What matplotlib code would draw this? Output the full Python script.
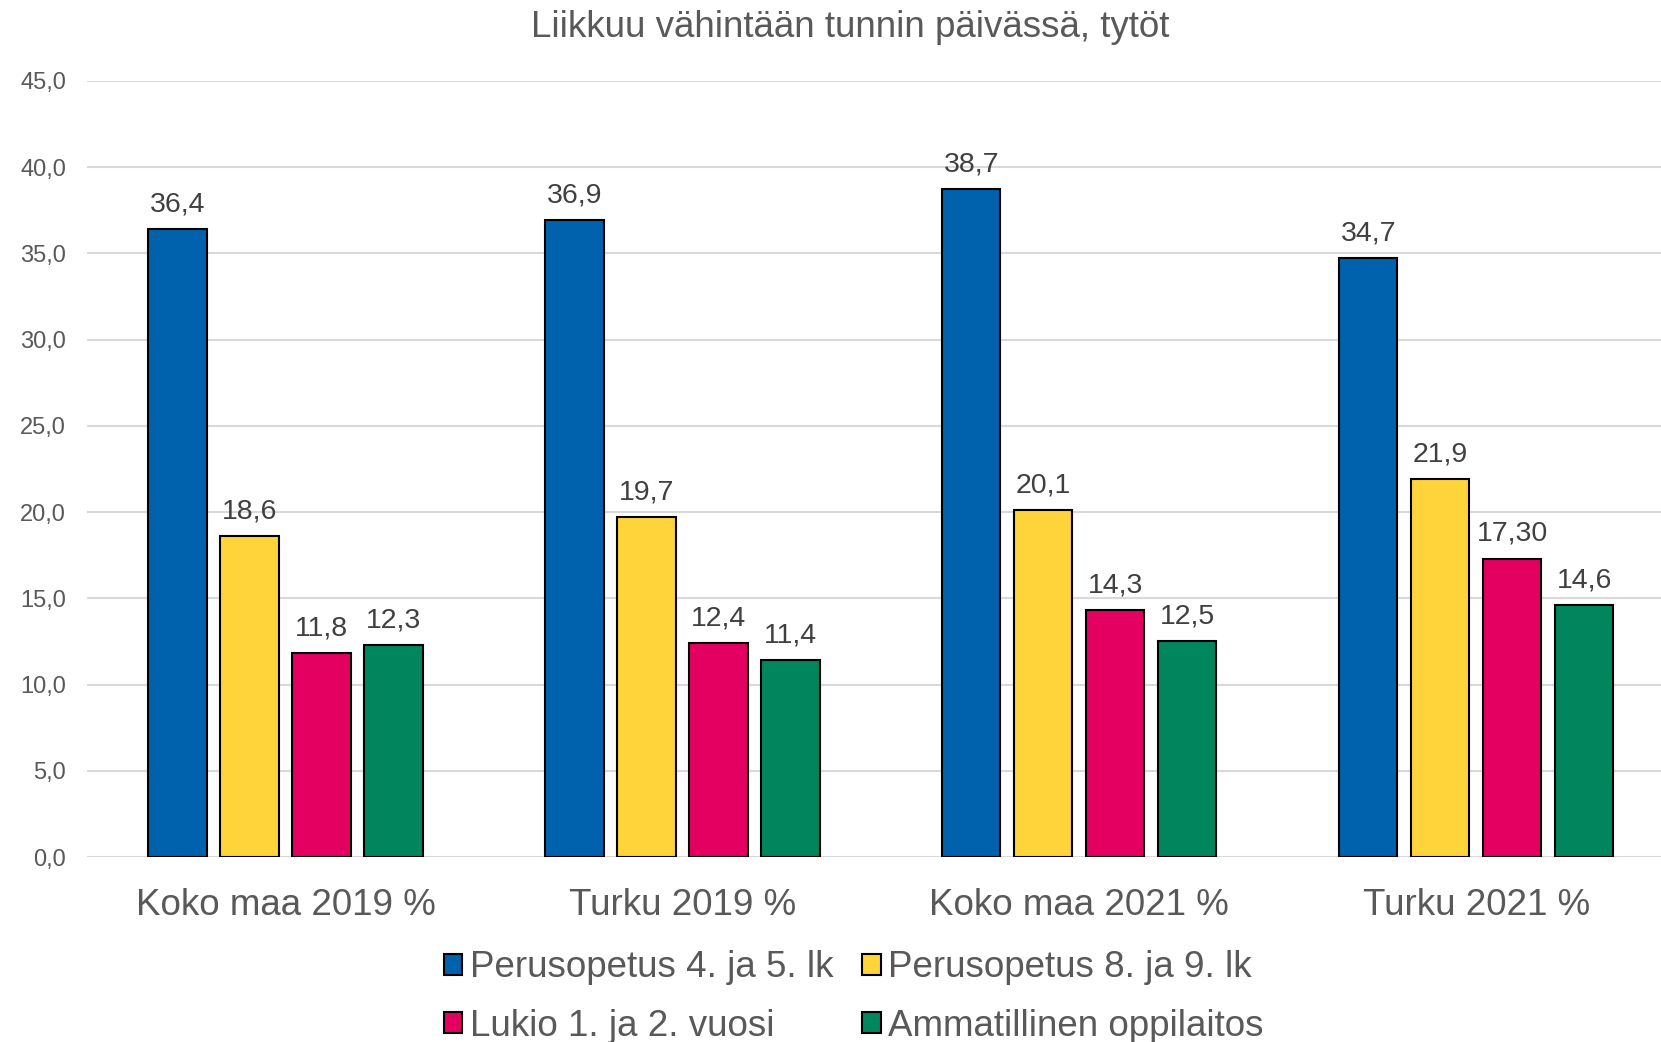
import numpy as np
from matplotlib import pyplot as plt

plt.rcParams['font.family'] = ['Liberation Sans', 'DejaVu Sans']

categories = ['Koko maa 2019 %', 'Turku 2019 %', 'Koko maa 2021 %', 'Turku 2021 %']
series_names = ['Perusopetus 4. ja 5. lk', 'Perusopetus 8. ja 9. lk',
                'Lukio 1. ja 2. vuosi', 'Ammatillinen oppilaitos']
peruso_4_5 = [36.4, 36.9, 38.7, 34.7]
peruso_8_9 = [18.6, 19.7, 20.1, 21.9]
lukio = [11.8, 12.4, 14.3, 17.30]
ammatillinen = [12.3, 11.4, 12.5, 14.6]
label_texts = [
    ['36,4', '36,9', '38,7', '34,7'],
    ['18,6', '19,7', '20,1', '21,9'],
    ['11,8', '12,4', '14,3', '17,30'],
    ['12,3', '11,4', '12,5', '14,6'],
]
colors = ['#0061AD', '#FFD33A', '#E30060', '#00855D']
yticks = np.arange(0, 46, 5)

series = [peruso_4_5, peruso_8_9, lukio, ammatillinen]

fig = plt.figure(figsize=(16.61, 10.42), dpi=100)
# plot area runs a bit past the right edge, like the original
ax = fig.add_axes([0.0524, 0.1775, 0.9558, 0.745])

x = np.arange(len(categories))
step = 0.1814
width = 0.147
for i, (vals, name, col, labs) in enumerate(zip(series, series_names, colors, label_texts)):
    pos = x + (i - 1.5) * step
    bars = ax.bar(pos, vals, width, color=col, edgecolor='black', linewidth=1.5,
                  label=name, zorder=3)
    for b, lab in zip(bars, labs):
        ax.annotate(lab, (b.get_x() + b.get_width() / 2, b.get_height()),
                    xytext=(0, 8.5), textcoords='offset points', ha='center', va='bottom',
                    fontsize=20.5, color='#404040')

ax.set_xlim(-0.5, 3.5)
ax.set_ylim(0, 45)
ax.set_yticks(yticks)
ax.set_yticklabels([f'{v:.1f}'.replace('.', ',') for v in yticks])
ax.set_xticks(x)
ax.set_xticklabels(categories)
ax.tick_params(axis='y', length=0, pad=15, labelsize=17, labelcolor='#595959')
ax.tick_params(axis='x', length=0, pad=22, labelsize=26.5, labelcolor='#595959')
ax.grid(axis='y', color='#D9D9D9', linewidth=1.5, zorder=0)
for s in ax.spines.values():
    s.set_visible(False)

fig.text(0.512, 0.974, 'Liikkuu vähintään tunnin päivässä, tytöt', ha='center', va='center',
         fontsize=26.5, color='#595959')

# row-major order in a two-column legend
handles, labels = ax.get_legend_handles_labels()
order = [0, 2, 1, 3]
fig.legend([handles[k] for k in order], [labels[k] for k in order],
           loc='center', bbox_to_anchor=(0.514, 0.043), ncol=2, frameon=False,
           fontsize=26.5, labelcolor='#595959', handlelength=0.5, handleheight=0.5,
           handletextpad=0.2, columnspacing=0.8, labelspacing=0.64, borderpad=0)

fig.savefig('out.png', dpi=100)
